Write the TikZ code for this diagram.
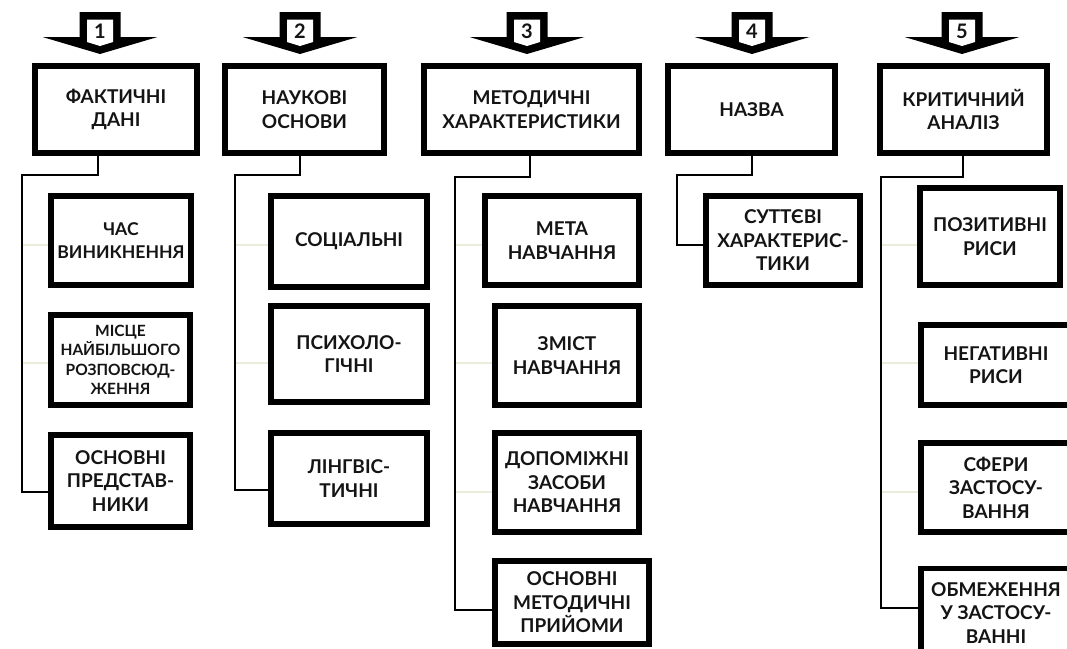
\documentclass[tikz,border=0pt]{standalone}
\usepackage{fontspec}
\setmainfont{Lato}
\definecolor{faintc}{RGB}{236,236,218}
\definecolor{txt}{RGB}{20,20,20}
\begin{document}
\begin{tikzpicture}[x=1pt,y=-1pt,
  box/.style={draw=black, line width=5.5pt, inner sep=0pt, align=center,
    font=\fontsize{19}{23.5}\selectfont\bfseries, text=txt},
  narrowbox/.style={box, font=\fontsize{17.6}{23.5}\selectfont\bfseries},
  smallbox/.style={box, font=\fontsize{15.5}{19.5}\selectfont\bfseries},
  conn/.style={line width=2pt, draw=black},
  faintline/.style={line width=1.2pt, draw=faintc},
  numlbl/.style={font=\fontsize{20}{22}\selectfont\bfseries, inner sep=0pt, text=txt}]
\useasboundingbox[fill=white] (0,0) rectangle (1067,648);

% block arrows with numbers
\foreach \cx/\n in {100/1,300/2,527/3,752/4,962/5}{
  \fill[black] (\cx-20.5,12) -- (\cx+20.5,12) -- (\cx+20.5,37) -- (\cx+57.5,37)
     -- (\cx,54) -- (\cx-57.5,37) -- (\cx-20.5,37) -- cycle;
  \fill[white] (\cx-13,19.5) -- (\cx+13,19.5) -- (\cx+13,42) -- (\cx,46)
     -- (\cx-13,42) -- cycle;
  \node[numlbl] (a\n) at (\cx,31.5) {\n};
}

% top level boxes
\node[box, minimum width=162, minimum height=87] (p1) at (116,109.5) {ФАКТИЧНІ\\ДАНІ};
\node[box, minimum width=159, minimum height=87] (p2) at (304.5,109.5) {НАУКОВІ\\ОСНОВИ};
\node[box, minimum width=215, minimum height=87] (p3) at (531.5,109.5) {МЕТОДИЧНІ\\ХАРАКТЕРИСТИКИ};
\node[box, minimum width=167, minimum height=87] (p4) at (751.5,109.5) {НАЗВА};
\node[box, minimum width=167, minimum height=87] (p5) at (963.5,109.5) {КРИТИЧНИЙ\\АНАЛІЗ};

% column 1
\node[narrowbox, minimum width=140, minimum height=89] (c11) at (121,240.5) {ЧАС\\ВИНИКНЕННЯ};
\node[smallbox, minimum width=139, minimum height=90] (c12) at (120.5,360) {МІСЦЕ\\НАЙБІЛЬШОГО\\РОЗПОВСЮД-\\ЖЕННЯ};
\node[box, minimum width=139, minimum height=92] (c13) at (120.5,481) {ОСНОВНІ\\ПРЕДСТАВ-\\НИКИ};
% column 2
\node[box, minimum width=156, minimum height=91] (c21) at (349,241.5) {СОЦІАЛЬНІ};
\node[box, minimum width=156, minimum height=96] (c22) at (349,354) {ПСИХОЛО-\\ГІЧНІ};
\node[box, minimum width=156, minimum height=91] (c23) at (349,478.5) {ЛІНГВІС-\\ТИЧНІ};
% column 3
\node[box, minimum width=154, minimum height=89] (c31) at (562,240.5) {МЕТА\\НАВЧАННЯ};
\node[box, minimum width=144, minimum height=99] (c32) at (567,355.5) {ЗМІСТ\\НАВЧАННЯ};
\node[box, minimum width=144, minimum height=99] (c33) at (567,482.5) {ДОПОМІЖНІ\\ЗАСОБИ\\НАВЧАННЯ};
\node[box, minimum width=154, minimum height=83] (c34) at (572,602.5) {ОСНОВНІ\\МЕТОДИЧНІ\\ПРИЙОМИ};
% column 4
\node[box, minimum width=154, minimum height=89] (c41) at (783,240.5) {СУТТЄВІ\\ХАРАКТЕРИС-\\ТИКИ};
% column 5
\node[box, minimum width=140, minimum height=97] (c51) at (990,236.5) {ПОЗИТИВНІ\\РИСИ};
\node[box, minimum width=150, minimum height=80] (c52) at (996,365) {НЕГАТИВНІ\\РИСИ};
\node[box, minimum width=150, minimum height=89] (c53) at (996,487.5) {СФЕРИ\\ЗАСТОСУ-\\ВАННЯ};
\node[box, minimum width=150, minimum height=89] (c54) at (996,613) {ОБМЕЖЕННЯ\\У ЗАСТОСУ-\\ВАННІ};

% junction coordinates
\coordinate (j1) at (98,175);   \coordinate (v1) at (22,175);  \coordinate (e1) at (22,492);
\coordinate (j2) at (300,175);  \coordinate (v2) at (235,175); \coordinate (e2) at (235,490);
\coordinate (j3) at (530,177);  \coordinate (v3) at (455,177); \coordinate (e3) at (455,610);
\coordinate (j4) at (752,175);  \coordinate (v4) at (677,175); \coordinate (e4) at (677,245);
\coordinate (j5) at (963,177);  \coordinate (v5) at (881,177); \coordinate (e5) at (881,608);

% faint branches to intermediate children
\foreach \v/\c/\y in {v1/c11/245, v1/c12/363, v2/c21/245, v2/c22/363,
                      v3/c31/245, v3/c32/363, v3/c33/492,
                      v5/c51/245, v5/c52/363, v5/c53/492}{
  \draw[faintline] (\v |- 0,\y) -- (\c.west |- 0,\y);
}

% main connectors
\draw[conn] (j1 |- p1.south) -- (j1) -- (v1) -- (e1) -- (e1 -| c13.west);
\draw[conn] (j2 |- p2.south) -- (j2) -- (v2) -- (e2) -- (e2 -| c23.west);
\draw[conn] (j3 |- p3.south) -- (j3) -- (v3) -- (e3) -- (e3 -| c34.west);
\draw[conn] (j4 |- p4.south) -- (j4) -- (v4) -- (e4) -- (e4 -| c41.west);
\draw[conn] (j5 |- p5.south) -- (j5) -- (v5) -- (e5) -- (e5 -| c54.west);
\end{tikzpicture}
\end{document}
